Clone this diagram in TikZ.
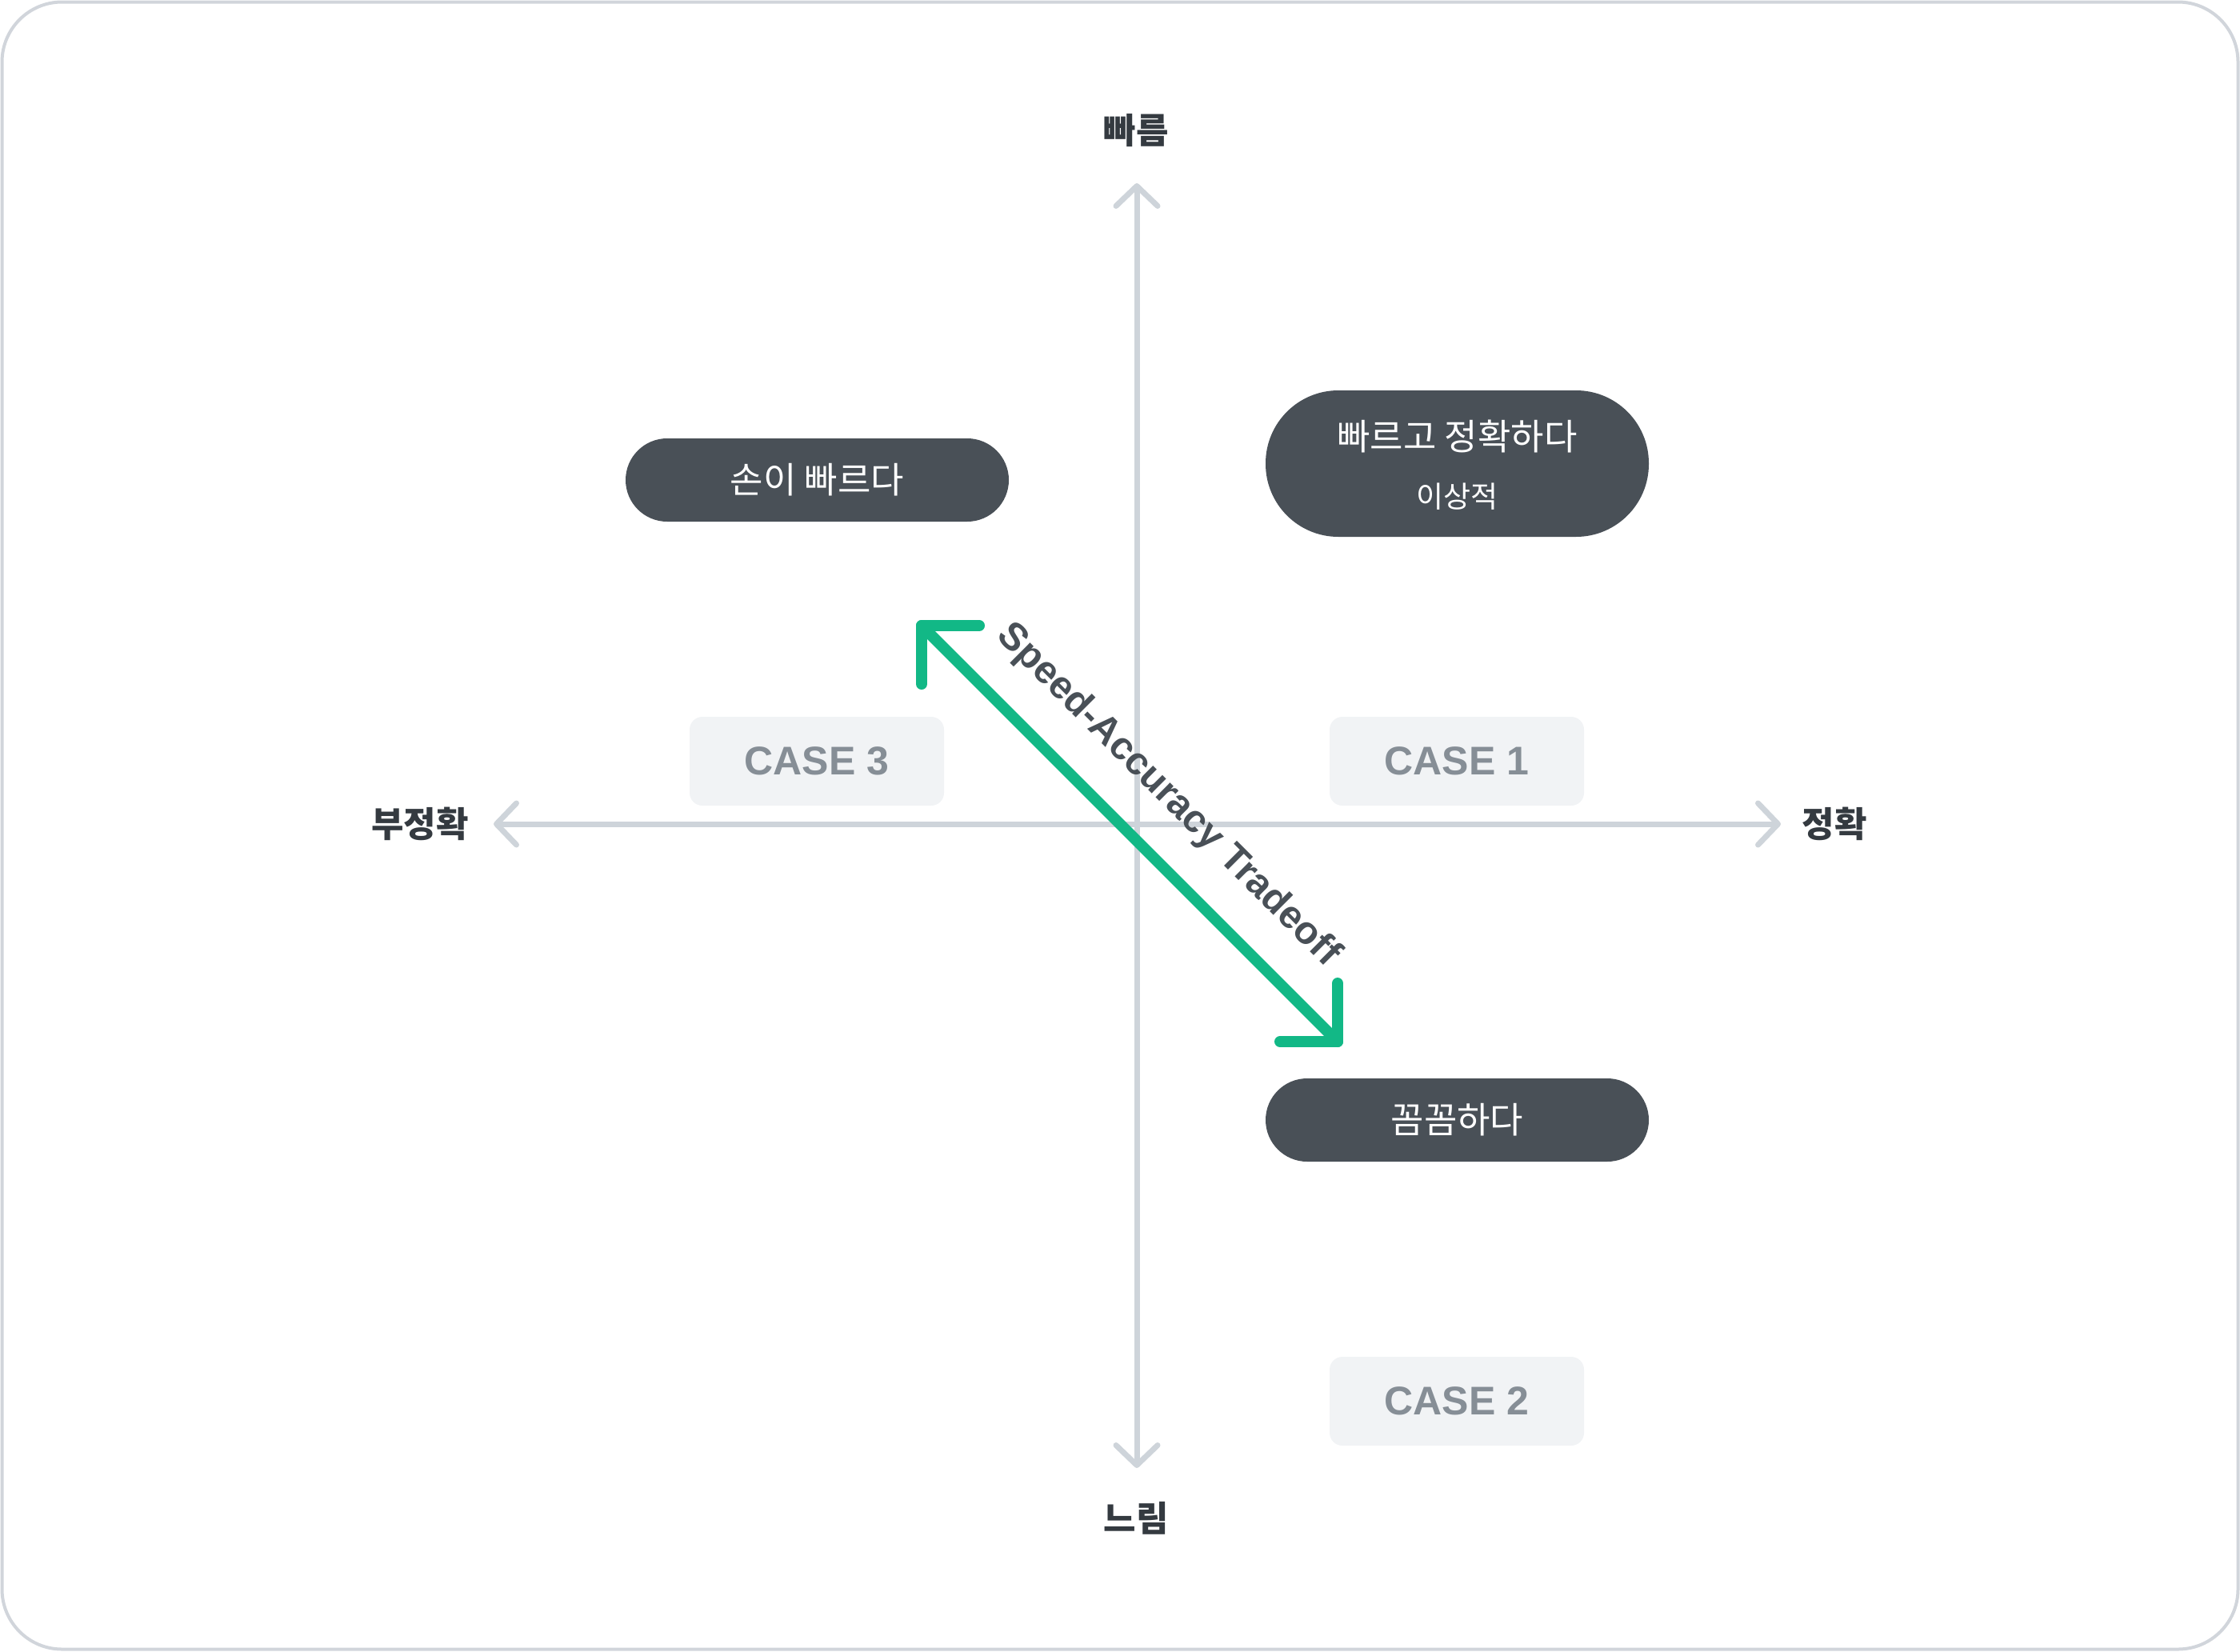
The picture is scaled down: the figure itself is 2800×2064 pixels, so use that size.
\documentclass[tikz,border=0pt]{standalone}
\usepackage{fontspec}
\setmainfont{Liberation Sans}
\newfontfamily\kr{Noto Sans CJK KR}
\usetikzlibrary{arrows.meta,calc}
\definecolor{axisgray}{HTML}{CED4DA}
\definecolor{framegray}{HTML}{D1D5DB}
\definecolor{pilldark}{HTML}{495057}
\definecolor{labeldark}{HTML}{343A40}
\definecolor{casebg}{HTML}{F1F3F5}
\definecolor{casefg}{HTML}{868E96}
\definecolor{tradegreen}{HTML}{12B886}
\begin{document}
\begin{tikzpicture}[x=1pt,y=-1pt,
  axisbarb/.tip={Straight Barb[length=25pt,width=52pt,round]},
  axisline/.style={draw=axisgray, line width=7pt, line cap=round, axisbarb-axisbarb},
  axislabel/.style={text=labeldark, font={\kr\bfseries\fontsize{44}{50}\selectfont}, inner sep=0pt},
  pill/.style={fill=pilldark, rounded corners=52pt, minimum width=479pt, minimum height=104pt, text=white, font={\kr\fontsize{45}{52}\selectfont}, inner sep=0pt},
  pilltext/.style={text=white, inner sep=0pt},
  casebox/.style={fill=casebg, rounded corners=16pt, minimum width=318pt, minimum height=111pt, text=casefg, font={\bfseries\fontsize{50}{56}\selectfont}, inner sep=0pt},
  trade/.style={draw=tradegreen, line width=14pt, line cap=round, line join=round},
  tradelabel/.style={text=pilldark, font={\bfseries\fontsize{48.5}{54}\selectfont}, inner sep=0pt},
]
\useasboundingbox (0,0) rectangle (2800,2064);
\draw[framegray, line width=4pt, rounded corners=75pt] (2.5,2.5) rectangle (2797.5,2061.5);

% axes
\coordinate (vtop) at (1421,229);
\coordinate (vbot) at (1421,1835);
\coordinate (hleft) at (617,1030);
\coordinate (hright) at (2226,1030);
\draw[axisline] (vbot) -- (vtop);
\draw[axisline] (hleft) -- (hright);

% axis labels
\node[axislabel] (fast) at (1420,163) {빠름};
\node[axislabel] (slow) at (1420,1898) {느림};
\node[axislabel] (inacc) at (525,1030) {부정확};
\node[axislabel] (acc) at (2293,1030) {정확};

% case boxes
\node[casebox] (case3) at (1021,951.5) {CASE 3};
\node[casebox] (case1) at (1821,951.5) {CASE 1};
\node[casebox] (case2) at (1821,1751.5) {CASE 2};

% pills
\node[pill] (handfast) at (1021.5,600) {손이 빠르다};
\node[pill, minimum height=183pt, rounded corners=91pt] (ideal) at (1821.5,579.5) {};
\node[pilltext, font={\kr\fontsize{45}{52}\selectfont}] (idealtitle) at (1821.5,546) {빠르고 정확하다};
\node[pilltext, font={\kr\fontsize{37}{44}\selectfont}] (idealsub) at (1821.5,621) {이상적};
\node[pill] (careful) at (1821.5,1400) {꼼꼼하다};

% tradeoff arrow
\coordinate (ga) at (1152,782);
\coordinate (gb) at (1672,1302);
\draw[trade] (ga) -- (gb);
\draw[trade] ($(ga)+(72,0)$) -- (ga) -- ($(ga)+(0,73)$);
\draw[trade] ($(gb)+(-72,0)$) -- (gb) -- ($(gb)+(0,-73)$);
\node[tradelabel, rotate=-45, anchor=base] (tlabel) at ($(ga)!0.5!(gb)+(39,-39)$) {Speed-Accuracy Tradeoff};
\end{tikzpicture}
\end{document}
